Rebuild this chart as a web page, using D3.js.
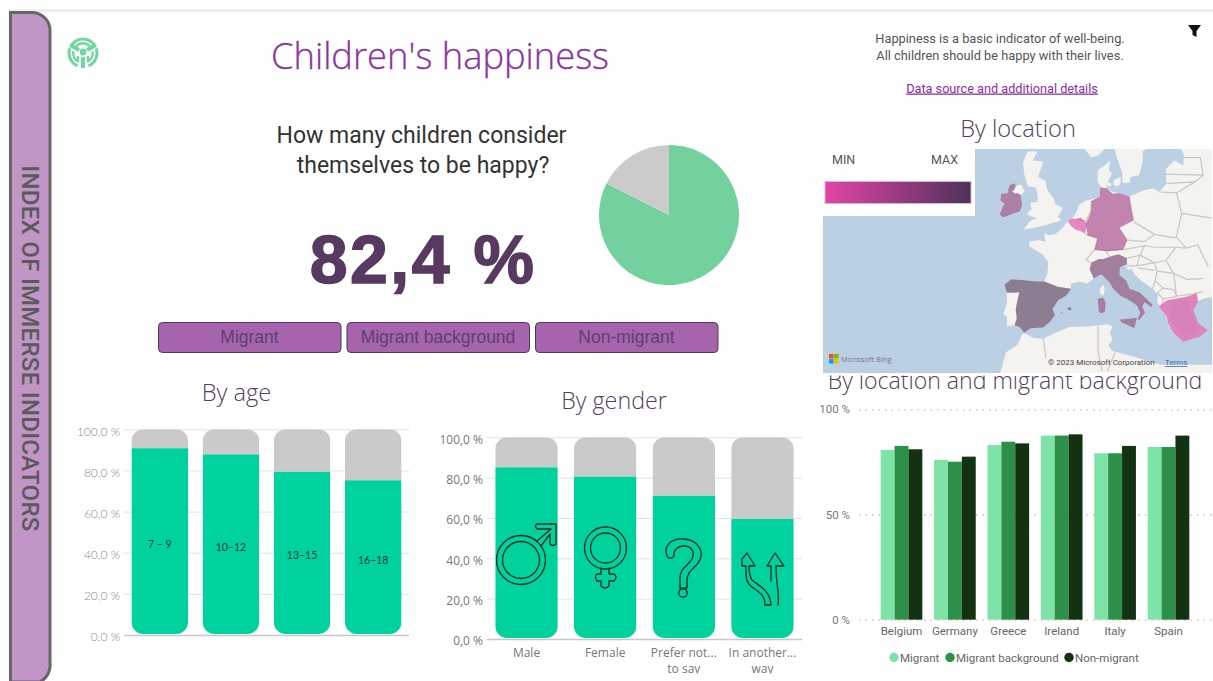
<!DOCTYPE html>
<html><head><meta charset="utf-8">
<script src="https://cdn.jsdelivr.net/npm/d3@7/dist/d3.min.js"></script>
<style>html,body{margin:0;padding:0;background:#fff;overflow:hidden}svg{display:block}</style>
</head><body><svg id="c" width="1213" height="681"></svg>
<script>
// ---------- data ----------
const overallHappy = 82.4;
const ageCats = ["7 – 9","10–12","13–15","16–18"];
const ageHappy = [90.8,87.8,79.3,75.2];
const genderCats = ["Male","Female","Prefer not...|to say","In another...|way"];
const genderHappy = [85.1,80.5,71,59.5];
const buttonLabels = ["Migrant","Migrant background","Non-migrant"];
const locations = ["Belgium","Germany","Greece","Ireland","Italy","Spain"];
const migrant = [80.7,75.9,83,87.5,79.1,82.1];
const migrantBackground = [82.6,75.1,84.6,87.5,79.1,82.1];
const nonMigrant = [81,77.5,83.8,88.1,82.6,87.5];
const percentTicks = [0,20,40,60,80,100];
const groupTicks = [0,50,100];
// map level of each location on the MIN-MAX scale
const mapLevels = {Belgium:.03,Germany:.43,Greece:.14,Ireland:.66,Italy:.77,Spain:1};
// outlines, [lon,lat]
const continent = [[-5.6,36],[-6.4,36.8],[-7.4,37.2],[-8.9,37],[-8.8,38.4],[-9.5,38.8],[-8.8,40.5],[-8.9,41.9],[-9.3,43],[-8,43.7],[-5.8,43.6],[-3.8,43.45],[-1.8,43.4],[-1.2,44.6],[-1.1,46],[-2.2,47],[-4.6,48],[-4.7,48.6],[-3,48.8],[-1.6,48.6],[-1.8,49.7],[-1.1,49.4],[.2,49.5],[1.5,50.2],[2.5,51.05],[3.4,51.4],[4.1,52],[4.8,53],[6,53.45],[7.2,53.6],[8.6,53.9],[8.9,54.9],[8.2,55.5],[8.2,56.7],[9.5,57.2],[10.6,57.7],[10.3,56.7],[10.9,56.4],[9.9,55.3],[9.9,54.8],[11,54.4],[12.3,54.3],[14.2,53.9],[16.5,54.5],[18.5,54.8],[19.8,54.4],[21.1,55.3],[21,56.8],[22.6,57.7],[24.3,57.2],[24.4,58.3],[23.5,59.2],[28,59.6],[32,60],[32,41.2],[29,41.2],[28,41],[26.8,40.6],[26.1,40.8],[24.5,40.9],[23.7,40.2],[22.7,40.4],[22.9,39.3],[23.3,38.6],[24,38],[23.1,37.9],[23.2,36.5],[22.4,36.5],[21.7,36.9],[21.2,37.8],[21.2,38.3],[20.8,38.9],[20.2,39.6],[19.4,40.5],[19.5,41.6],[18.5,42.4],[16.4,43.5],[15.1,44.4],[14.5,45.2],[13.9,44.9],[13.6,45.5],[12.4,45.3],[12.3,44.3],[13.6,43.5],[14.2,42.4],[16.1,41.9],[18.5,40.2],[18.3,39.8],[17,40.5],[16.6,39.9],[17.1,39],[16.1,37.95],[15.7,38],[16.2,39],[15.6,40],[14.4,40.7],[12.5,41.4],[11.1,42.4],[10.4,43.3],[8.9,44.4],[7.5,43.8],[6.2,43.1],[4.8,43.4],[3.1,43.1],[3.25,42.4],[2.2,41.4],[.8,40.8],[-.3,39.5],[.2,38.7],[-.7,37.7],[-2,36.8],[-4.4,36.7]];
const britain = [[-5.7,50.1],[-3.5,50.3],[-1.2,50.7],[1.4,51.2],[.7,51.6],[1.7,52.6],[.3,53],[0,53.6],[-1.3,54.7],[-1.6,55.6],[-3,56],[-2,57.6],[-4,57.7],[-3.1,58.6],[-5,58.6],[-5.8,57.5],[-5.6,56.3],[-4.9,55],[-3.4,54.9],[-3,53.8],[-3.1,53.3],[-4.5,53.2],[-4.2,52.5],[-5.2,51.9],[-3.2,51.4],[-4.5,51.1]];
const northernIreland = [[-7.2,55.05],[-6.2,55.2],[-5.5,54.5],[-6.2,54.05],[-6.9,54.3],[-7.3,54.2],[-7.9,54.5],[-7.5,54.6]];
const scandinavia = [[11.2,59.2],[11.8,58],[12.8,56.5],[12.9,55.4],[14.2,55.4],[14.4,56],[16,56.2],[16.6,57.5],[16.7,58.6],[18.5,59.4],[18.5,61],[8,61],[6,60],[5.5,59],[7,58],[8.3,58.2],[10.5,59.3]];
const zealand = [[11.2,55.7],[12.5,56],[12.5,55.3],[11.8,55],[11.2,55.2]];
const funen = [[10,55.5],[10.8,55.3],[10.6,55],[10,55.1]];
const corsica = [[8.6,42.4],[9.4,43],[9.5,42],[9.2,41.4],[8.7,41.7]];
const africa = [[-6,35.8],[-5.3,35.9],[-4,35.2],[-2,35.1],[0,35.9],[3,36.9],[7,37],[10,37.3],[11,37],[10.5,36],[11,35],[10.2,34],[11,33.2],[15,32.3],[20,31],[32,31],[32,20],[-15,20],[-10,30],[-9,33],[-6.8,34.2]];
const ireland = [[-6.2,53.9],[-6.1,53.4],[-6,52.9],[-6.4,52.2],[-7.5,52],[-8.3,51.8],[-9.6,51.5],[-10.2,51.9],[-9.7,52.6],[-9.3,53.1],[-10.1,53.5],[-9.9,54.2],[-8.6,54.3],[-8.6,54.7],[-8.3,55.15],[-7.4,55.35],[-7.2,55.05],[-7.5,54.6],[-7.9,54.5],[-7.3,54.2],[-6.9,54.3],[-6.2,54.05]];
const belgium = [[2.55,51.1],[3.4,51.4],[4.3,51.35],[5,51.5],[5.9,51],[6.2,50.5],[5.8,49.6],[5,49.9],[4.2,50],[3.2,50.5]];
const germany = [[7,53.4],[8.6,53.9],[8.7,54.9],[9.9,54.8],[11,54.2],[12.3,54.3],[14.2,53.9],[14.6,52.5],[15,51.2],[12.3,50.3],[13.8,48.8],[13,47.6],[10.2,47.4],[7.6,47.6],[8.2,49],[6.3,49.4],[6,50.8],[6.8,51.9],[7,52.3]];
const italy = [[7.5,43.8],[6.7,45],[7,45.9],[8.4,46.4],[9.3,46.4],[10.4,46.7],[12.1,47],[13.7,46.5],[13.7,45.7],[12.4,45.3],[12.3,44.3],[13.6,43.5],[14.2,42.4],[16.1,41.9],[18.5,40.2],[18.3,39.8],[17,40.5],[16.6,39.9],[17.1,39],[16.1,37.95],[15.7,38],[16.2,39],[15.6,40],[14.4,40.7],[12.5,41.4],[11.1,42.4],[10.4,43.3],[8.9,44.4]];
const sardinia = [[8.2,41],[9.2,41.2],[9.7,40.5],[9.6,39.2],[8.9,38.9],[8.4,39.2]];
const sicily = [[12.4,38],[15.6,38.25],[15.1,36.7],[12.6,37.6]];
const spain = [[-9.3,43],[-8,43.7],[-5.8,43.6],[-3.8,43.45],[-1.8,43.4],[.7,42.7],[3.25,42.4],[2.2,41.4],[.8,40.8],[-.3,39.5],[.2,38.7],[-.7,37.7],[-2,36.8],[-4.4,36.7],[-5.6,36],[-6.4,36.8],[-7.4,37.2],[-7,38.2],[-7.2,39.5],[-6.8,41],[-6.5,41.9],[-8.2,41.85],[-8.9,41.9]];
const mallorca = [[2.4,39.6],[3.1,39.9],[3.3,39.4],[2.8,39.4]];
const ibiza = [[1.2,39],[1.6,39.1],[1.5,38.85]];
const greeceArea = [[19.7,39.9],[21.2,40.8],[24.9,41.3],[26.8,41.8],[27.1,40.6],[26.2,39.4],[27.1,37.5],[28.9,36.4],[27.4,35.4],[24.3,34.6],[22.4,36],[21.4,37.5],[21.2,38.4]];
const greeceInner = [[21.5,39.8],[23,40.6],[24.5,41],[25.5,40.6],[26,38.6],[27.2,36.6],[26,35.8],[24,36.2],[22.5,37],[21.7,38.3]];
const borders = [
 [[5.8,49.6],[6.3,49.4],[8.2,49],[7.6,47.6],[6,46.3],[7,45.9]],
 [[7.6,47.6],[9.6,47.5],[10.4,46.8]],
 [[4.3,51.35],[6,51.1],[6.9,52.2],[7,53.4]],
 [[19.8,54.4],[23,54.3],[24,52],[23,49.2],[22.5,49.1],[18.9,49.5],[15,51]],
 [[13.8,48.8],[17,48.6],[18.9,49.5]],
 [[9.6,47.5],[13,47.6],[17,48.1],[16.2,46.9],[13.7,46.5]],
 [[17,48.1],[19,47.9],[22.9,47.9]],
 [[16.2,46.9],[18.8,45.9],[21,46.2],[22.9,47.9],[24.8,47.8],[27,48.2],[29,45.4]],
 [[21,46.2],[22.5,44.5],[25,43.7],[28,43.8]],
 [[22.5,44.5],[23,41.4],[26.2,41.7],[28,42]],
 [[13.7,45.5],[15.5,45.5],[16.2,46.9]],
 [[15.5,45.5],[18.8,45.9],[19.4,44.8],[19,43.5],[18.5,42.4]],
 [[15.8,45.2],[19,44.9]],
 [[19.4,44.8],[22.5,44.5]],
 [[19.4,41.8],[20.5,42.5],[22.5,42.3],[23,41.4]],
 [[19.4,41.8],[20.5,41],[20.2,39.7]],
 [[20.5,41],[22.9,41.3]],
 [[19,43.5],[20.5,42.5]],
 [[24,52],[30,51.4]],
 [[23,49.2],[24.8,47.8]],
 [[23,54.3],[26.5,55.5],[28,56.2],[27.5,58]],
 [[21,56.3],[28,56.2]],
 [[24.4,58],[27.5,58]],
 [[21.1,55.3],[26.5,55.5]],
 [[-2,35.1],[-1.5,32]],
 [[8.3,37],[8.3,33],[9,30]],
 [[11.5,33],[10,30]]
];

// ---------- colours ----------
const GREEN="#00d29e", GREY="#cacaca", TITLE="#54405f";
const seriesColours=["#7de3a6","#2d8f49","#123212"];
const svg=d3.select("#c");
const defs=svg.append("defs");
const txt=(s,x,y,size,fill,font,anchor="middle",weight=400,g=svg)=>g.append("text").attr("x",x).attr("y",y)
  .attr("font-size",size).attr("fill",fill).attr("font-family",font).attr("text-anchor",anchor).attr("font-weight",weight).text(s);

// ---------- chrome ----------
svg.append("rect").attr("x",8).attr("y",9).attr("width",1205).attr("height",3).attr("fill","#eeeeee");
svg.append("rect").attr("x",8).attr("y",9).attr("width",2).attr("height",672).attr("fill","#f6f6f6");
svg.append("path").attr("d","M10.5 12.5H32a18 18 0 0 1 18 18V663a19 19 0 0 1-10 19H10.5Z")
  .attr("fill","#c195c6").attr("stroke","#666").attr("stroke-width",3);
svg.append("text").attr("transform","translate(21.7,348.5) rotate(90)").attr("text-anchor","middle")
  .attr("font-family","Roboto").attr("font-size",24).attr("letter-spacing",.3).attr("fill","#5a5a5a").attr("font-weight",500).text("INDEX OF IMMERSE INDICATORS");

// logo
const logo=svg.append("g").attr("transform","translate(83,53)").attr("fill","none").attr("stroke","#72d6a0");
const logoArc=d3.arc();
[[12.5,15.5,-.95,.95],[12.5,15.5,1.25,2.75],[12.5,15.5,3.55,5.05],[8.5,11,-.8,.8],[8.5,11,1.4,2.7],[8.5,11,3.6,4.9]].forEach(a=>
  logo.append("path").attr("stroke","none").attr("fill","#72d6a0").attr("d",logoArc({innerRadius:a[0],outerRadius:a[1],startAngle:a[2],endAngle:a[3]})));
logo.append("circle").attr("r",3.4).attr("cy",-1).attr("stroke","none").attr("fill","#72d6a0");
logo.append("path").attr("stroke-width",4).attr("d","M-13-8-4-3M13-8 4-3M0 4V15");
logo.append("path").attr("stroke-width",2.4).attr("d","M-5 3V9M5 3V9");

// titles
txt("Children's happiness",440,68.5,36.3,"#8b359c","'Open Sans'","middle",300).attr("stroke","#8b359c").attr("stroke-width",.3);
txt("How many children consider",421.5,143,23,"#333","Roboto");
txt("themselves to be happy?",423,172.5,23,"#333","Roboto");
txt(d3.format(".1f")(overallHappy).replace(".",",")+" %",423,283,68,"#58395f","'Liberation Sans'","middle",700)
  .attr("letter-spacing",2.5).attr("stroke","#58395f").attr("stroke-width",1.5);
txt("Happiness is a basic indicator of well-being.",1000,43,12.8,"#555","Roboto");
txt("All children should be happy with their lives.",1000,59.5,12.8,"#555","Roboto");
txt("Data source and additional details",1002,92.5,12.7,"#8a2e9e","Roboto").attr("text-decoration","underline");
svg.append("path").attr("d","M1188 25H1201L1196.5 31V37L1192.5 35V31Z").attr("fill","#111");

// ---------- pie ----------
const pieG=svg.append("g").attr("transform","translate(669,215)");
const pieData=d3.pie().sort(null)([overallHappy,100-overallHappy]);
pieG.selectAll("path").data(pieData).join("path").attr("d",d3.arc().innerRadius(0).outerRadius(70)).attr("fill",(d,i)=>i?"#cbcbcb":"#72d19c");

// ---------- buttons ----------
const btnX=d3.scalePoint().domain(buttonLabels).range([158,535]);
buttonLabels.forEach(b=>{
  svg.append("rect").attr("x",btnX(b)+.5).attr("y",322.5).attr("width",182.5).attr("height",30).attr("rx",4)
    .attr("fill","#a564ab").attr("stroke","#4d3a56");
  txt(b,btnX(b)+91.5,343,17.5,"#5f3f75","'Liberation Sans'");
});

// ---------- stacked bars ----------
function stacked(cfg){
  const x=d3.scaleBand().domain(cfg.cats).range([cfg.x0,cfg.x1]).paddingInner(.205).paddingOuter(.105);
  const y=d3.scaleLinear().domain([0,100]).range([cfg.y0,cfg.y1]);
  const g=svg.append("g");
  const axis=g.append("g").attr("transform",`translate(${cfg.x0},0)`)
    .call(d3.axisLeft(y).tickValues(percentTicks).tickSize(-(cfg.x1-cfg.x0)).tickPadding(cfg.pad).tickFormat(d=>d3.format(".1f")(d).replace(".",",")+" %"));
  axis.select(".domain").remove();
  axis.selectAll(".tick line").attr("stroke",d=>d===0?"#c8c8c8":"#e2e2e2").attr("stroke-width",d=>d===0?1.5:1);
  axis.selectAll("text").attr("font-family",cfg.font).attr("font-size",12).attr("font-weight",cfg.tickWeight).attr("fill",cfg.tickFill).attr("dy","0.32em").attr("y",2);
  cfg.cats.forEach((c,i)=>{
    const id=cfg.id+i;
    defs.append("clipPath").attr("id",id).append("rect").attr("x",x(c)).attr("width",x.bandwidth())
      .attr("y",y(100)).attr("height",y(0)-y(100)-1).attr("rx",12);
    const col=g.append("g").attr("clip-path",`url(#${id})`);
    col.append("rect").attr("x",x(c)).attr("width",x.bandwidth()).attr("y",y(100)).attr("height",y(cfg.vals[i])-y(100)).attr("fill",GREY);
    col.append("rect").attr("x",x(c)).attr("width",x.bandwidth()).attr("y",y(cfg.vals[i])).attr("height",y(0)-y(cfg.vals[i])).attr("fill",GREEN);
  });
  return {x,y,g};
}
const age=stacked({id:"a",cats:ageCats,vals:ageHappy,x0:124,x1:409,y0:635,y1:429.3,pad:4,font:"Lato",tickWeight:300,tickFill:"#888"});
ageCats.forEach((c,i)=>txt(c,age.x(c)+age.x.bandwidth()/2,age.y(ageHappy[i]/2)+6,10.5,"#0b3b34","Lato"));
const gen=stacked({id:"g",cats:genderCats,vals:genderHappy,x0:487,x1:802,y0:639,y1:437.3,pad:4,font:"'Open Sans'",tickWeight:400,tickFill:"#777"});
defs.append("clipPath").attr("id","lbl").append("rect").attr("x",430).attr("y",640).attr("width",390).attr("height",33.5);
const lblG=svg.append("g").attr("clip-path","url(#lbl)");
genderCats.forEach(c=>c.split("|").forEach((s,j)=>txt(s,gen.x(c)+gen.x.bandwidth()/2,656.5+j*16,12,"#777","'Open Sans'","middle",400,lblG)));

// gender icons
const ic=svg.append("g").attr("fill","none").attr("stroke","#0f2d27").attr("stroke-width",1.3).attr("stroke-linejoin","round").attr("stroke-linecap","round");
ic.append("circle").attr("cx",521).attr("cy",560).attr("r",24.5);
ic.append("circle").attr("cx",521).attr("cy",560).attr("r",18.5);
ic.append("path").attr("d","M537 541 L551 529 L537 529 Q534 526 537 524 L556 524 L556 544 Q553 547 550 544 L550 534 L541 546");
ic.append("circle").attr("cx",605.5).attr("cy",548).attr("r",21);
ic.append("circle").attr("cx",605.5).attr("cy",548).attr("r",15);
ic.append("path").attr("d","M601 568V574H597Q594 577 597 581H601V586Q605 590 609 586V581H614Q618 577 614 574H609V568");
ic.append("path").attr("d","M667 556C663 545 672 538 684 539C698 540 706 552 698 563C693 570 687 571 687 581V588H680V578C680 568 688 566 692 559C696 551 690 546 684 546C677 546 673 551 674 556C672 559 669 559 667 556Z");
ic.append("circle").attr("cx",683).attr("cy",593).attr("r",4.2);
ic.append("path").attr("d","M771 605 C770 590 759 586 752 580 C749 576 749 570 749 566 L755 566 L747 553 L742 559 L742 566 L746 566 C746 575 745 582 752 587 C760 593 765 595 765 605 Z");
ic.append("path").attr("d","M778 605 C780 592 776 588 776 566 L784 566 L775 553 L767 566 L771 566 L771 581");

// ---------- map ----------
const projection=d3.geoMercator().scale(305).translate([1054,538.5]);
const poly=d3.line().x(d=>projection(d)[0]).y(d=>projection(d)[1]);
const shape=pts=>poly(pts)+"Z";
defs.append("clipPath").attr("id","mapClip").append("rect").attr("x",823).attr("y",149).attr("width",389).attr("height",224);
const map=svg.append("g").attr("clip-path","url(#mapClip)");
map.append("rect").attr("x",823).attr("y",149).attr("width",389).attr("height",224).attr("fill","#bcd0e4");
[continent,britain,northernIreland,scandinavia,zealand,funen,corsica,africa,ireland,sardinia,sicily,mallorca,ibiza,greeceArea].forEach(p=>
  map.append("path").attr("d",shape(p)).attr("fill","#f5f3f0"));
borders.forEach(b=>map.append("path").attr("d",poly(b)).attr("fill","none").attr("stroke","#c9c6c3").attr("stroke-width",1.2));
const colourScale=d3.scaleLinear().domain([0,1]).range(["#e344a8","#4d3358"]);
const regions={Belgium:[belgium],Germany:[germany],Greece:[greeceArea],Ireland:[ireland],Italy:[italy,sardinia,sicily],Spain:[spain,mallorca,ibiza]};
locations.forEach(l=>regions[l].forEach(p=>
  map.append("path").attr("d",shape(p)).attr("fill",colourScale(mapLevels[l])).attr("fill-opacity",.62)));
map.append("path").attr("d",shape(greeceInner)).attr("fill","#c56cb6").attr("fill-opacity",.2);
// legend
map.append("rect").attr("x",823).attr("y",149).attr("width",152).attr("height",67).attr("fill","#fff");
const gr=defs.append("linearGradient").attr("id","legendGrad");
gr.append("stop").attr("offset",0).attr("stop-color",colourScale(0));
gr.append("stop").attr("offset",1).attr("stop-color",colourScale(1));
map.append("rect").attr("x",825).attr("y",181.5).attr("width",146).attr("height",22).attr("fill","url(#legendGrad)").attr("stroke","#d9b6d2");
txt("MIN",832,164,12.5,"#555","Roboto","start",400,map);
txt("MAX",931,164,12.5,"#555","Roboto","start",400,map);
// attribution
[["#f25022",0,0],["#7fba00",5,0],["#00a4ef",0,5],["#ffb900",5,5]].forEach(s=>
  map.append("rect").attr("x",829+s[1]).attr("y",354+s[2]).attr("width",4.5).attr("height",4.5).attr("fill",s[0]));
txt("Microsoft Bing",841,362,7.5,"#777","'Open Sans'","start",400,map);
txt("© 2023 Microsoft Corporation",1048,365,8,"#444","Roboto","start",400,map);
txt("Terms",1165,365,8,"#3a6db5","Roboto","start",400,map).attr("text-decoration","underline");

txt("By age",236.5,401,23.7,TITLE,"'Open Sans'","middle",300);
txt("By gender",614,409,23.3,TITLE,"'Open Sans'","middle",300);
txt("By location",1018,137,23.6,TITLE,"'Open Sans'","middle",300);
defs.append("clipPath").attr("id","tclip").append("rect").attr("x",820).attr("y",375.5).attr("width",393).attr("height",30);
const tG=svg.append("g").attr("clip-path","url(#tclip)");
txt("By location and migrant background",1015,389,23.1,TITLE,"'Open Sans'","middle",300,tG);

// ---------- grouped bars ----------
const x0=d3.scaleBand().domain(locations).range([874.8,1195.2]).paddingInner(.22).paddingOuter(.11);
const seriesNames=["Migrant","Migrant background","Non-migrant"];
const seriesValues=[migrant,migrantBackground,nonMigrant];
const x1=d3.scaleBand().domain(seriesNames).range([0,x0.bandwidth()]);
const yG=d3.scaleLinear().domain([0,100]).range([619.7,409.3]);
const gAxis=svg.append("g").attr("transform","translate(859,0)")
  .call(d3.axisLeft(yG).tickValues(groupTicks).tickSize(-353).tickPadding(9).tickFormat(d=>d+" %"));
gAxis.select(".domain").remove();
gAxis.selectAll(".tick line").attr("stroke","#f3b09a").attr("stroke-width",1.3).attr("stroke-dasharray","1.5 5");
gAxis.selectAll("text").attr("font-family","Roboto").attr("font-size",11.5).attr("fill","#777");
seriesNames.forEach((s,k)=>{
  svg.append("g").selectAll("rect").data(locations).join("rect")
    .attr("x",d=>x0(d)+x1(s)).attr("width",x1.bandwidth())
    .attr("y",(d,i)=>yG(seriesValues[k][i])).attr("height",(d,i)=>yG(0)-yG(seriesValues[k][i]))
    .attr("fill",seriesColours[k]);
});
const xAxis=svg.append("g").attr("transform","translate(0,619.7)").call(d3.axisBottom(x0).tickSize(0).tickPadding(7.5));
xAxis.select(".domain").remove();
xAxis.selectAll("text").attr("font-family","Roboto").attr("font-size",11.5).attr("fill","#666");
const legendDot=[894,950,1069];
seriesNames.forEach((s,k)=>{
  svg.append("circle").attr("cx",legendDot[k]).attr("cy",657.5).attr("r",4.7).attr("fill",seriesColours[k]);
  txt(s,legendDot[k]+6,661.5,11.5,"#666","Roboto","start");
});
</script></body></html>
